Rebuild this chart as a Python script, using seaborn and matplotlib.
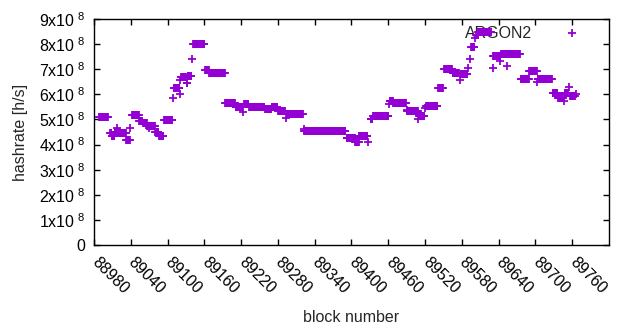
import numpy as np
import pandas as pd
import matplotlib
matplotlib.use('Agg')
import matplotlib.pyplot as plt
from matplotlib.ticker import FuncFormatter, MultipleLocator
import seaborn as sns

# runs of blocks with the same hashrate (start block, end block, hashrate in 1e8 h/s)
run_start = [88988, 89006, 89009, 89014, 89018, 89019, 89021, 89033, 89039, 89042,
             89054, 89060, 89067, 89070, 89080, 89086, 89094, 89109, 89110, 89120,
             89121, 89122, 89131, 89133, 89140, 89142, 89161, 89168, 89194, 89211,
             89223, 89225, 89233, 89259, 89270, 89280, 89293, 89294, 89322, 89323,
             89392, 89393, 89406, 89413, 89427, 89431, 89435, 89444, 89461, 89462,
             89468, 89490, 89491, 89509, 89510, 89520, 89522, 89541, 89551, 89565,
             89577, 89578, 89590, 89594, 89595, 89601, 89603, 89607, 89630, 89631,
             89643, 89644, 89654, 89656, 89676, 89690, 89703, 89704, 89728, 89737,
             89746, 89748, 89754, 89757, 89766]
run_end = [89003, 89008, 89013, 89017, 89018, 89020, 89032, 89038, 89039, 89053,
           89059, 89066, 89079, 89070, 89085, 89093, 89108, 89109, 89119, 89120,
           89121, 89130, 89132, 89139, 89140, 89160, 89167, 89193, 89210, 89222,
           89223, 89232, 89258, 89269, 89279, 89291, 89293, 89321, 89322, 89390,
           89392, 89405, 89412, 89426, 89427, 89434, 89443, 89460, 89461, 89467,
           89489, 89490, 89508, 89509, 89519, 89520, 89540, 89549, 89564, 89575,
           89577, 89589, 89590, 89594, 89600, 89601, 89606, 89628, 89630, 89642,
           89643, 89653, 89654, 89675, 89689, 89702, 89703, 89727, 89736, 89745,
           89746, 89753, 89754, 89764, 89766]
run_hashrate = [5.08, 4.45, 4.35, 4.50, 4.65, 4.50, 4.45, 4.19, 4.65, 5.17,
                4.95, 4.85, 4.75, 4.66, 4.50, 4.35, 4.97, 5.84, 6.27, 6.00,
                6.57, 6.69, 6.44, 6.75, 7.40, 8.00, 6.96, 6.84, 5.64, 5.50,
                5.30, 5.60, 5.48, 5.40, 5.50, 5.35, 5.05, 5.22, 4.60, 4.55,
                4.25, 4.25, 4.10, 4.35, 4.10, 5.00, 5.14, 5.14, 5.60, 5.75,
                5.67, 5.38, 5.32, 5.00, 5.15, 5.45, 5.52, 6.25, 7.00, 6.85,
                6.57, 6.80, 7.04, 7.40, 7.90, 8.23, 8.36, 8.50, 7.04, 7.51,
                7.34, 7.60, 7.13, 7.60, 6.63, 6.92, 6.50, 6.63, 6.06, 5.85,
                5.75, 6.05, 6.28, 5.95, 6.00]

x_ticks = list(range(88980, 89761, 60))

blocks = []
rates = []
for a, b, v in zip(run_start, run_end, run_hashrate):
    for blk in range(a, b + 1):
        blocks.append(blk)
        rates.append(v * 1e8)
df = pd.DataFrame({'block': blocks, 'hashrate': rates})

sns.set_style('ticks')
plt.rcParams['font.family'] = ['Liberation Sans', 'DejaVu Sans']
plt.rcParams['mathtext.default'] = 'regular'

fig = plt.figure(figsize=(6.4, 3.3), dpi=100)
ax = fig.add_axes([94 / 640, 1 - 245 / 330, (609 - 94) / 640, (245 - 19) / 330])

sns.scatterplot(data=df, x='block', y='hashrate', marker='+', s=30,
                color='#9400D3', linewidth=1.3, ax=ax, label='ARGON2', zorder=3)

ax.set_xlim(88980, 89820)
ax.set_ylim(0, 9e8)
ax.set_xticks(x_ticks)
ax.set_xticklabels([str(t) for t in x_ticks], rotation=-45, ha='left', va='center',
                   rotation_mode='anchor')
ax.yaxis.set_major_locator(MultipleLocator(1e8))


def fmt(v, pos):
    n = int(round(v / 1e8))
    if n == 0:
        return '0'
    return f'{n}x10$^{{\\ 8}}$'


ax.yaxis.set_major_formatter(FuncFormatter(fmt))
ax.tick_params(direction='in', length=4, width=1, top=True, right=True,
               labelsize=11.5, colors='black')
ax.tick_params(axis='x', pad=11)
ax.tick_params(axis='y', pad=6)
for sp in ax.spines.values():
    sp.set_color('black')
    sp.set_linewidth(1)

ax.set_xlabel('block number', fontsize=11.5, labelpad=9)
ax.set_ylabel('hashrate [h/s]', fontsize=11.5, labelpad=8)

# key sits under the points, like gnuplot draws it
leg = ax.legend(loc='upper right', bbox_to_anchor=(0.978, 1.013), frameon=False,
                markerfirst=False, fontsize=11.5, handletextpad=1.5,
                borderaxespad=0.2)
leg.set_zorder(1)

fig.savefig('out.png', dpi=100)
